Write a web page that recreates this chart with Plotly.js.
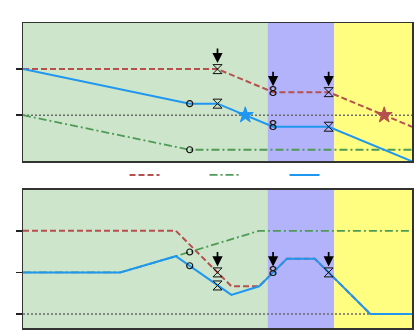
<!DOCTYPE html>
<html><head><meta charset="utf-8">
<script src="https://cdn.plot.ly/plotly-3.0.1.min.js"></script>
<style>html,body{margin:0;padding:0;background:#fff}</style>
</head><body><div id="chart" style="width:415px;height:332px"></div>
<script>
// ---- data ----
const regionStart = [0, 8.8, 11.2];
const regionEnd   = [8.8, 11.2, 14];
const regionColor = ['#cce5cb', '#b3b3fc', '#fffe80'];

// top panel
const topRedX   = [0, 7, 9, 11, 14];
const topRedY   = [1, 1, 0.5, 0.5, -0.25];
const topGreenX = [0, 6, 14];
const topGreenY = [0, -0.75, -0.75];
const topBlueX  = [0, 6, 7, 9, 11, 14];
const topBlueY  = [1, 0.25, 0.25, -0.25, -0.25, -1];

// bottom panel
const botRedX   = [0, 5.5, 7, 7.5, 8.5, 9, 9.5, 10.5, 11, 12.5, 14];
const botRedY   = [2, 2, 1, 0.667, 0.667, 1, 1.33, 1.33, 1, 0, 0];
const botGreenX = [0, 3.5, 5.5, 8.5, 14];
const botGreenY = [1, 1, 1.39, 2, 2];
const botBlueX  = [0, 3.5, 5.5, 7.5, 8.5, 9, 9.5, 10.5, 11, 12.5, 14];
const botBlueY  = [1, 1, 1.39, 0.46, 0.667, 1, 1.33, 1.33, 1, 0, 0];

// event markers
const topCircleX = [6, 6],    topCircleY = [0.25, -0.75];
const topCrossX  = [7, 7, 11, 11], topCrossY = [1, 0.25, 0.5, -0.25];
const topEightX  = [9, 9],    topEightY  = [0.5, -0.25];
const topStarBlueX = [8], topStarBlueY = [0];
const topStarRedX  = [13], topStarRedY = [0];
const topArrowX  = [7, 9, 11], topArrowY = [1, 0.5, 0.5];

const botCircleX = [6, 6],    botCircleY = [1.49, 1.16];
const botCrossX  = [7, 7, 11], botCrossY = [1, 0.686, 1];
const botEightX  = [9],       botEightY  = [1];
const botArrowX  = [7, 9, 11], botArrowY = [1, 1, 1];

const zeroX = [0, 14], zeroY = [0, 0];

// ---- styles ----
const RED = '#b5504e', GREEN = '#4f9a55', BLUE = '#1f97f0', GRAY = '#6a6a6a';
const redLine   = {color: RED, width: 2, dash: '6px,3px'};
const greenLine = {color: GREEN, width: 1.8, dash: '8px,3px,2px,3px'};
const blueLine  = {color: BLUE, width: 2};
const zeroLine  = {color: GRAY, width: 1.5, dash: '2px,2px'};

function line(x, y, l, xa, ya, legend) {
  return {x, y, mode: 'lines', line: l, xaxis: xa, yaxis: ya, name: '', showlegend: !!legend, hoverinfo: 'skip'};
}
function mk(x, y, sym, size, color, xa, ya, lw) {
  return {x, y, mode: 'markers', xaxis: xa, yaxis: ya, showlegend: false, hoverinfo: 'skip',
    marker: {symbol: sym, size: size, color: color, line: {color: sym.indexOf('open') >= 0 ? '#111' : color, width: lw || 1}}};
}
function txt(x, y, xa, ya) {
  return {x, y, mode: 'text', text: x.map(() => '8'), textposition: 'middle center',
    textfont: {family: 'DejaVu Sans', size: 14, color: '#111'}, xaxis: xa, yaxis: ya, showlegend: false, hoverinfo: 'skip'};
}

const traces = [
  line(zeroX, zeroY, zeroLine, 'x', 'y'),
  line(topRedX, topRedY, redLine, 'x', 'y', true),
  line(topGreenX, topGreenY, greenLine, 'x', 'y', true),
  line(topBlueX, topBlueY, blueLine, 'x', 'y', true),
  mk(topCircleX, topCircleY, 'circle-open', 6, '#111', 'x', 'y', 1.2),
  mk(topCrossX, topCrossY, 'hourglass-open', 9, '#111', 'x', 'y', 1),
  txt(topEightX, topEightY, 'x', 'y'),
  mk(topStarBlueX, topStarBlueY, 'star', 12, BLUE, 'x', 'y'),
  mk(topStarRedX, topStarRedY, 'star', 12, RED, 'x', 'y'),

  line(zeroX, zeroY, zeroLine, 'x2', 'y2'),
  line(botRedX, botRedY, redLine, 'x2', 'y2'),
  line(botGreenX, botGreenY, greenLine, 'x2', 'y2'),
  line(botBlueX, botBlueY, blueLine, 'x2', 'y2'),
  mk(botCircleX, botCircleY, 'circle-open', 6, '#111', 'x2', 'y2', 1.2),
  mk(botCrossX, botCrossY, 'hourglass-open', 9, '#111', 'x2', 'y2', 1),
  txt(botEightX, botEightY, 'x2', 'y2'),
];

const shapes = [];
['x', 'x2'].forEach((xa, i) => {
  const ya = i === 0 ? 'y' : 'y2';
  regionStart.forEach((s, k) => {
    shapes.push({type: 'rect', layer: 'below', xref: xa, yref: ya + ' domain',
      x0: s, x1: regionEnd[k], y0: 0, y1: 1, fillcolor: regionColor[k], line: {width: 0}});
  });
});

const annotations = [];
function arrows(xs, ys, xa, ya) {
  xs.forEach((x, i) => annotations.push({x, y: ys[i], xref: xa, yref: ya, ax: 0, ay: -22,
    showarrow: true, arrowhead: 2, arrowsize: 1.2, arrowwidth: 1.7, arrowcolor: '#000', standoff: 6, text: ''}));
}
arrows(topArrowX, topArrowY, 'x', 'y');
arrows(botArrowX, botArrowY, 'x2', 'y2');

const frame = {showline: true, mirror: true, linecolor: '#333', linewidth: 1.5, showgrid: false, zeroline: false, showticklabels: false};
const layout = {
  width: 415, height: 332,
  margin: {l: 23, r: 3, t: 23, b: 4},
  paper_bgcolor: '#fff', plot_bgcolor: '#fff',
  showlegend: true,
  legend: {orientation: 'h', x: 0.261, xanchor: 'left', y: 0.502, yanchor: 'middle',
    entrywidth: 35, entrywidthmode: 'pixels', bgcolor: 'rgba(0,0,0,0)', font: {size: 10}, itemclick: false},
  xaxis:  Object.assign({}, frame, {range: [0, 14], domain: [0, 1], anchor: 'y', ticks: ''}),
  yaxis:  Object.assign({}, frame, {range: [-1, 2], domain: [0.5466, 1], anchor: 'x', tickvals: [0, 1], ticks: 'outside', ticklen: 6, tickwidth: 1.5, tickcolor: '#222'}),
  xaxis2: Object.assign({}, frame, {range: [0, 14], domain: [0, 1], anchor: 'y2', ticks: ''}),
  yaxis2: Object.assign({}, frame, {range: [-0.336, 2.98], domain: [0, 0.4525], anchor: 'x2', tickvals: [0, 1, 2], ticks: 'outside', ticklen: 6, tickwidth: 1.5, tickcolor: '#222'}),
  shapes, annotations
};
Plotly.newPlot('chart', traces, layout, {displayModeBar: false, staticPlot: true});
</script></body></html>
